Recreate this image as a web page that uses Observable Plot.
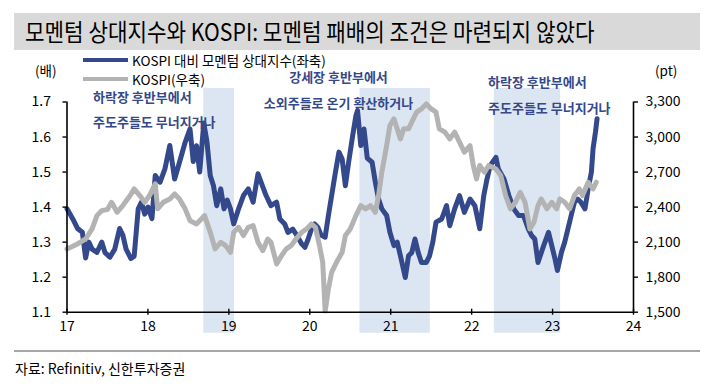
<!DOCTYPE html>
<html><head><meta charset="utf-8">
<script src="https://cdn.jsdelivr.net/npm/d3@7"></script>
<script src="https://cdn.jsdelivr.net/npm/@observablehq/plot@0.6"></script>
<style>
body{margin:0;background:#fff;font-family:"Noto Sans CJK KR","Noto Sans",sans-serif;}
#wrap{position:relative;width:714px;height:388px;overflow:hidden;background:#fff;}
.abs{position:absolute;white-space:nowrap;}
#title{left:14px;top:13px;width:686px;height:37px;background:#d9d9d9;}
#title span{position:absolute;left:11px;top:2px;font-size:24px;line-height:32px;color:#000;transform:scaleX(0.885);transform-origin:left center;}
#chart{left:0;top:50px;}
.leg{font-size:13.5px;line-height:16px;color:#000;}
.unit{font-size:13.5px;line-height:16px;color:#000;}
.ann{font-size:13px;line-height:16px;color:#34488a;font-weight:700;}
#rule{left:14px;top:350px;width:686px;height:2px;background:#a6a6a6;}
#cap{left:15px;top:359px;font-size:14px;line-height:18px;color:#000;}
</style></head>
<body><div id="wrap">
<div id="title" class="abs"><span>모멘텀 상대지수와 KOSPI: 모멘텀 패배의 조건은 마련되지 않았다</span></div>
<div id="chart" class="abs"></div>
<div class="abs" style="left:83px;top:58px;width:45px;height:4px;background:#34488c"></div>
<div class="abs leg" style="left:132px;top:52px">KOSPI 대비 모멘텀 상대지수(좌축)</div>
<div class="abs" style="left:83px;top:77px;width:45px;height:4px;background:#b3b3b3"></div>
<div class="abs leg" style="left:132px;top:71px">KOSPI(우축)</div>
<div class="abs unit" style="left:35px;top:62px">(배)</div>
<div class="abs unit" style="left:655px;top:62px">(pt)</div>
<div class="abs ann" style="left:93px;top:89px">하락장 후반부에서</div>
<div class="abs ann" style="left:93px;top:114px">주도주들도 무너지거나</div>
<div class="abs ann" style="left:238px;top:69px;width:201px;text-align:center">강세장 후반부에서</div>
<div class="abs ann" style="left:238px;top:95px;width:201px;text-align:center">소외주들로 온기 확산하거나</div>
<div class="abs ann" style="left:488px;top:74px">하락장 후반부에서</div>
<div class="abs ann" style="left:488px;top:100px">주도주들도 무너지거나</div>
<div id="rule" class="abs"></div>
<div id="cap" class="abs">자료: Refinitiv, 신한투자증권</div>
</div>
<script>
// Momentum relative index vs KOSPI (left axis, x)
const momT = [17.00,17.07,17.13,17.19,17.23,17.27,17.31,17.37,17.43,17.47,17.53,17.59,17.65,17.69,17.73,17.79,17.83,17.88,17.92,17.96,
18.00,18.05,18.09,18.15,18.21,18.27,18.33,18.39,18.46,18.52,18.56,18.60,18.64,18.69,18.73,18.77,18.81,18.85,18.90,18.94,18.98,
19.02,19.06,19.12,19.18,19.24,19.30,19.36,19.40,19.46,19.52,19.59,19.63,19.69,19.73,19.79,19.83,19.90,19.94,19.98,
20.02,20.06,20.10,20.14,20.19,20.23,20.27,20.31,20.36,20.40,20.44,20.48,20.53,20.57,20.59,20.63,20.67,20.71,20.77,20.81,20.85,20.89,20.95,20.99,
21.04,21.08,21.12,21.18,21.22,21.26,21.30,21.34,21.38,21.44,21.48,21.52,21.56,21.63,21.69,21.73,21.79,21.85,21.91,21.98,
22.04,22.10,22.15,22.19,22.23,22.30,22.33,22.40,22.46,22.52,22.58,22.64,22.70,22.74,22.78,22.82,22.89,22.95,22.99,
23.03,23.06,23.11,23.15,23.19,23.23,23.27,23.31,23.35,23.40,23.44,23.48,23.50,23.53,23.55];
const momV = [1.395,1.367,1.339,1.328,1.255,1.30,1.28,1.271,1.30,1.27,1.257,1.28,1.339,1.32,1.28,1.253,1.26,1.395,1.414,1.38,
1.40,1.367,1.49,1.471,1.509,1.576,1.48,1.528,1.585,1.623,1.53,1.575,1.50,1.64,1.585,1.49,1.461,1.404,1.452,1.395,1.42,
1.395,1.352,1.395,1.433,1.452,1.414,1.495,1.47,1.433,1.404,1.414,1.366,1.352,1.328,1.337,1.323,1.295,1.285,1.309,
1.337,1.352,1.342,1.32,1.314,1.376,1.433,1.49,1.557,1.537,1.461,1.528,1.604,1.661,1.676,1.576,1.623,1.54,1.528,1.471,1.423,1.395,1.376,1.328,
1.29,1.30,1.261,1.199,1.261,1.27,1.309,1.27,1.242,1.242,1.261,1.30,1.357,1.366,1.404,1.347,1.395,1.433,1.385,1.423,
1.404,1.338,1.433,1.48,1.519,1.542,1.509,1.48,1.433,1.395,1.376,1.376,1.338,1.319,1.309,1.242,1.29,1.328,1.29,
1.252,1.219,1.271,1.30,1.338,1.376,1.414,1.423,1.414,1.395,1.452,1.50,1.566,1.614,1.652];
// KOSPI (right axis, pt)
const kospiT = [17.00,17.13,17.23,17.31,17.37,17.43,17.50,17.55,17.62,17.69,17.78,17.83,17.90,17.96,
18.02,18.09,18.12,18.19,18.27,18.33,18.39,18.46,18.52,18.60,18.66,18.70,18.77,18.83,18.90,18.96,
19.02,19.06,19.12,19.18,19.24,19.30,19.36,19.42,19.48,19.52,19.59,19.65,19.71,19.77,19.83,19.90,19.96,
20.02,20.07,20.12,20.16,20.19,20.23,20.27,20.33,20.40,20.44,20.50,20.57,20.63,20.69,20.75,20.81,20.85,20.89,20.95,20.99,
21.04,21.08,21.12,21.16,21.22,21.26,21.32,21.38,21.44,21.50,21.56,21.60,21.67,21.73,21.79,21.85,21.91,21.98,
22.02,22.06,22.10,22.16,22.21,22.30,22.36,22.42,22.48,22.54,22.60,22.66,22.72,22.77,22.82,22.86,22.93,22.99,
23.05,23.09,23.15,23.21,23.27,23.33,23.37,23.44,23.50,23.54];
const kospiV = [2042,2085,2127,2213,2327,2370,2380,2441,2356,2413,2499,2556,2499,2441,
2499,2599,2385,2441,2470,2513,2470,2385,2284,2256,2299,2327,2184,2042,2099,2070,
2013,2184,2227,2156,2227,2241,2099,2027,2127,2099,1913,1984,2042,2070,2127,2184,2213,
2256,2227,2070,1927,1510,1699,1841,1927,2013,2156,2213,2327,2413,2385,2413,2356,2499,2699,2927,3099,
3156,3070,2984,3070,3070,3127,3213,3241,3284,3241,3213,3070,3042,2984,3042,2956,2870,2927,
2756,2642,2756,2699,2756,2727,2670,2499,2385,2441,2527,2441,2213,2270,2413,2470,2385,2441,
2385,2470,2441,2385,2499,2556,2499,2613,2556,2613];
// shaded periods
const periodStart = [18.69, 20.62, 22.28];
const periodEnd = [19.07, 21.49, 23.10];
// tick labels
const xTicks = [17,18,19,20,21,22,23,24];
const leftTicks = [1.1,1.2,1.3,1.4,1.5,1.6,1.7];
const kospiTicks = [1500,1800,2100,2400,2700,3000,3300];

const toLeft = v => 1.1 + (v - 1500) / 3000;
const fromLeft = r => 1500 + (r - 1.1) * 3000;

const mom = momT.map((t,i)=>({t, v: momV[i]}));
const kospi = kospiT.map((t,i)=>({t, v: toLeft(kospiV[i])}));
const periods = periodStart.map((s,i)=>({s, e: periodEnd[i]}));
const yMin = leftTicks[0];

const chart = Plot.plot({
  width: 714, height: 295,
  marginTop: 51.5, marginBottom: 33.3, marginLeft: 66.5, marginRight: 81,
  x: {domain: [17, 24]},
  y: {domain: [1.1, 1.7]},
  style: {fontFamily: '"Noto Sans CJK KR","Noto Sans",sans-serif', fontSize: "14px", color: "#000", background: "transparent", overflow: "visible"},
  marks: [
    Plot.rect(periods, {x1: "s", x2: "e", fill: "#dce6f2", insetTop: -13.5, insetBottom: -21}),
    Plot.line(mom, {x: "t", y: "v", stroke: "#34488c", strokeWidth: 5, strokeLinejoin: "round"}),
    Plot.line(kospi, {x: "t", y: "v", stroke: "#b3b3b3", strokeWidth: 5, strokeLinejoin: "round"}),
    Plot.ruleX([17, 24], {stroke: "#000", strokeWidth: 1.6}),
    Plot.ruleY([yMin], {stroke: "#000", strokeWidth: 1.6}),
    Plot.ruleX(xTicks, {x: d => d, y1: yMin, y2: yMin, stroke: "#000", strokeWidth: 1.4, insetTop: -3, insetBottom: -3}),
    Plot.axisX({ticks: xTicks, tickFormat: d => String(d), tickSize: 0, tickPadding: 9, label: null}),
    Plot.axisY({anchor: "left", ticks: leftTicks, tickFormat: d => d.toFixed(1), tickSize: 4, tickPadding: 12, label: null, strokeWidth: 1.4}),
    Plot.axisY({anchor: "right", ticks: kospiTicks.map(toLeft), tickFormat: d => d3.format(",")(Math.round(fromLeft(d))), tickSize: 4, tickPadding: 8, label: null, strokeWidth: 1.4})
  ]
});
document.getElementById("chart").appendChild(chart);
</script>
</body></html>
